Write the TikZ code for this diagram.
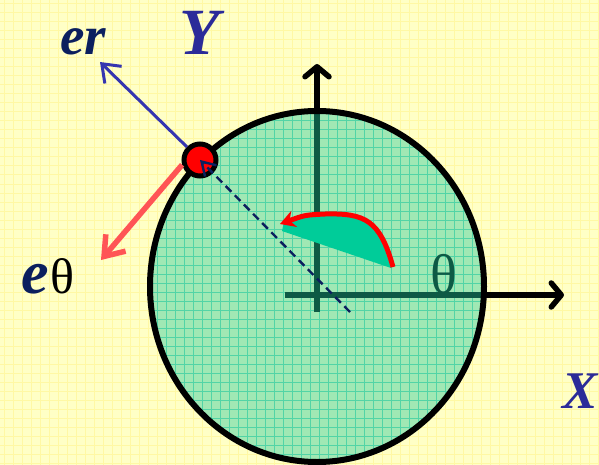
\documentclass[tikz,border=0pt]{standalone}
\usepackage{fontspec}
\setmainfont{Liberation Serif}
\usepackage{xcolor}
\usetikzlibrary{arrows.meta, positioning, calc}

\definecolor{bgyellow}{HTML}{FFFFC6}
\definecolor{bggridcol}{HTML}{FFF8A4}
\definecolor{diskfill}{HTML}{A0E8B4}
\definecolor{diskgridcol}{HTML}{52D4A6}
\definecolor{axisteal}{HTML}{0D5A45}
\definecolor{sectorcol}{HTML}{00CC99}
\definecolor{labelblue}{HTML}{2B2B99}
\definecolor{labelnavy}{HTML}{0B1F5E}
\definecolor{erblue}{HTML}{3535B0}
\definecolor{ethred}{HTML}{FF5555}

\begin{document}
\begin{tikzpicture}[
    x=1pt, y=-1pt,
    bggrid/.style={bggridcol, line width=1pt},
    diskgrid/.style={diskgridcol, line width=1pt},
    axis/.style={line width=5.5pt, -{Straight Barb[length=10pt, width=24pt, line cap=round, line join=round]}},
    axisin/.style={axisteal, line width=5.5pt},
    disk/.style={line width=6pt, draw=black},
    dot/.style={circle, fill=red, draw=black, line width=5pt, minimum size=32pt, inner sep=0pt},
    erarrow/.style={erblue, line width=3pt, -{Straight Barb[length=16pt, width=24pt]}},
    etharrow/.style={ethred, line width=5.5pt, -{Straight Barb[length=18pt, width=26pt]}},
    radius/.style={labelnavy, line width=2.4pt, dash pattern=on 8pt off 5pt, -{Straight Barb[length=13pt, width=16pt]}},
    swing/.style={red, line width=5pt, -{Stealth[length=15pt, width=17pt]}},
    biglabel/.style={font=\fontsize{66}{66}\selectfont\bfseries\itshape, text=labelblue, inner sep=0pt},
]

\useasboundingbox (0,0) rectangle (599,465);
\fill[bgyellow] (0,0) rectangle (599,465);
\foreach \gx in {4,13,...,599} \draw[bggrid] (\gx,0) -- (\gx,465);
\foreach \gy in {4,13,...,465} \draw[bggrid] (0,\gy) -- (599,\gy);

% axes
\coordinate (xstart) at (285,295);
\coordinate (xend) at (564,295);
\coordinate (ystart) at (317,312);
\coordinate (yend) at (317,64);
\draw[axis] (xstart) -- (xend);
\draw[axis] (ystart) -- (yend);

% disk
\coordinate (O) at (317,286.5);
\fill[diskfill] (O) ellipse [x radius=167, y radius=175.5];
\begin{scope}
  \clip (O) ellipse [x radius=167, y radius=175.5];
  \foreach \gx in {4,13,...,599} \draw[diskgrid] (\gx,100) -- (\gx,465);
  \foreach \gy in {4,13,...,465} \draw[diskgrid] (140,\gy) -- (490,\gy);
  \draw[axisin] (xstart) -- (xend);
  \draw[axisin] (ystart) -- (yend);
\end{scope}
\node[font=\fontsize{56}{56}\selectfont, text=axisteal, anchor=base, inner sep=0pt] (theta) at (444,293) {θ};
\draw[disk] (O) ellipse [x radius=167, y radius=175.5];

% angle sweep
\fill[sectorcol] (282,231) -- (391,268) .. controls (378,222) and (365,213) .. (325,214) .. controls (305,215) .. (284,222) -- cycle;
\coordinate (swingstart) at (393,267);
\coordinate (swingmid) at (325,214);
\coordinate (swingend) at (280,224);
\draw[swing] (swingstart) .. controls (380,220) and (365,213) .. (swingmid) .. controls (305,215) .. (swingend);

% point and unit vectors
\node[dot] (P) at (200,160) {};
\coordinate (ertip) at (100,62);
\coordinate (ethtip) at (101,260);
\coordinate (rstart) at (350,312);
\draw[erarrow] (P.135) -- (ertip);
\draw[etharrow] (P.195) -- (ethtip);
\draw[radius] (rstart) -- (P.center);

% labels
\node[biglabel, anchor=base] (Ylabel) at (200,55) {Y};
\node[biglabel, font=\fontsize{53}{53}\selectfont\bfseries\itshape, anchor=base] (Xlabel) at (580,408) {X};
\node[font=\fontsize{55}{55}\selectfont\bfseries\itshape, text=labelnavy, anchor=base west, inner sep=0pt] (erlabel) at (60,55) {er};
\node[font=\fontsize{62}{62}\selectfont\bfseries\itshape, text=labelnavy, anchor=base west, inner sep=0pt] (elabel) at (21,293) {e};
\node[font=\fontsize{50}{50}\selectfont, inner sep=0pt, right=1pt of elabel.base east, anchor=base west] (thlabel) {θ};

\end{tikzpicture}
\end{document}
